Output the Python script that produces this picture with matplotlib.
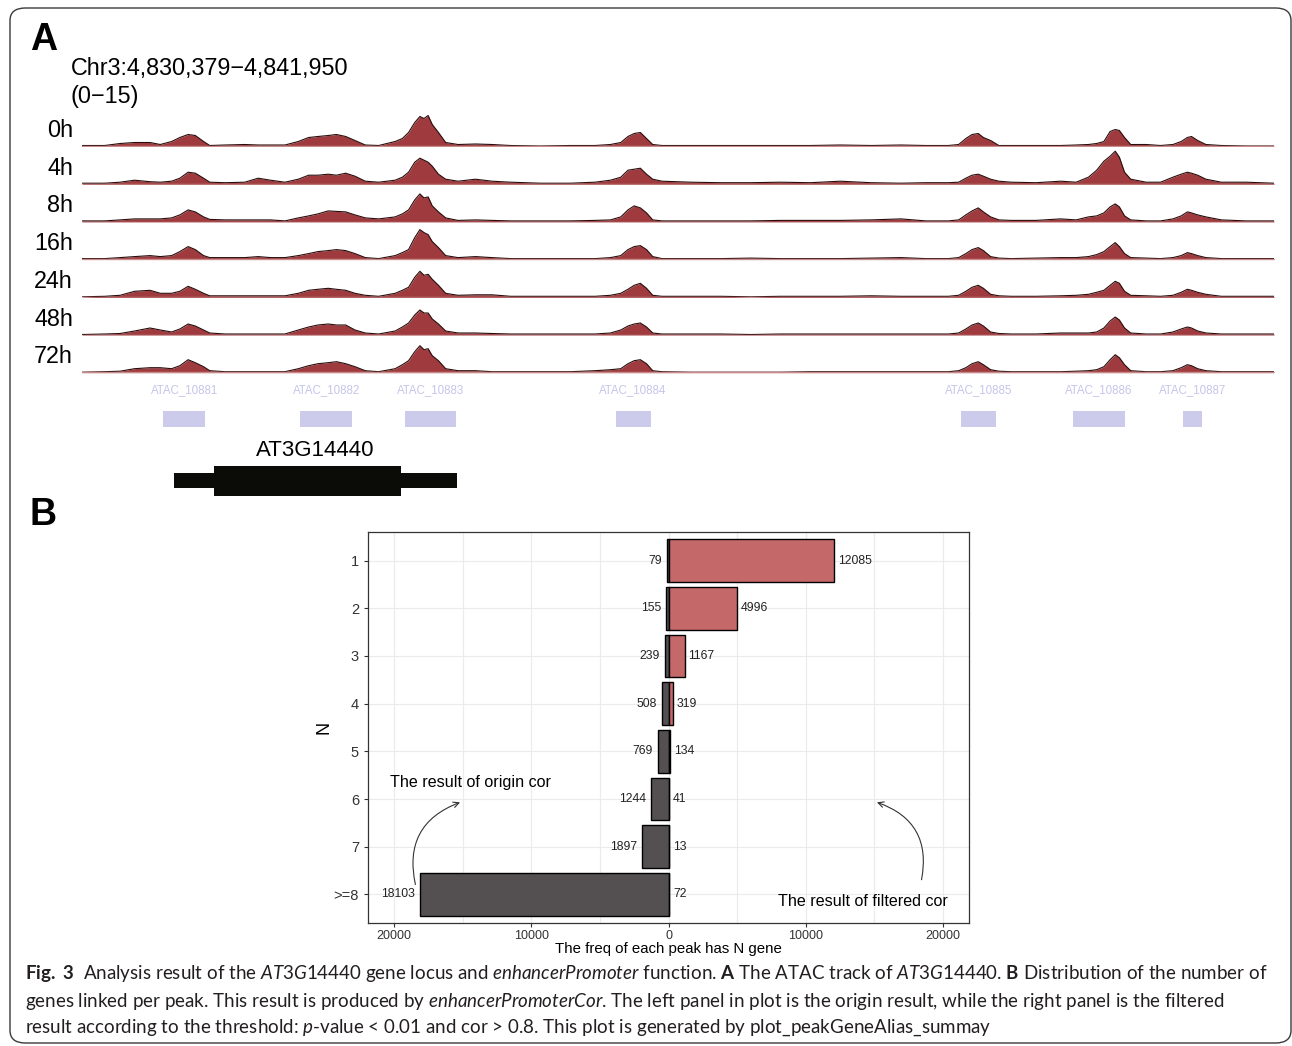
import matplotlib
matplotlib.use('Agg')
import matplotlib.pyplot as plt
import numpy as np
from matplotlib.patches import FancyBboxPatch, Rectangle
from matplotlib.ticker import FixedLocator, FuncFormatter

plt.rcParams['font.family'] = ['Liberation Sans', 'DejaVu Sans']
plt.rcParams['mathtext.fontset'] = 'custom'
plt.rcParams['mathtext.rm'] = 'Lato'
plt.rcParams['mathtext.it'] = 'Lato:italic'
plt.rcParams['mathtext.bf'] = 'Lato:bold'

W, H = 1292, 1046  # output size in pixels

# ---- panel A data: coverage tracks (bp offset from region start, signal 0-15)
REGION = 'Chr3:4,830,379\u22124,841,950'
REGION_LEN = 11571
pos = [0, 220, 370, 510, 660, 760, 870, 950, 1030, 1100,
       1180, 1240, 1390, 1580, 1710, 1830, 1970, 2100, 2200, 2290,
       2390, 2470, 2560, 2650, 2750, 2880, 3040, 3110, 3170, 3230,
       3280, 3320, 3360, 3400, 3460, 3530, 3650, 3820, 3980, 4160,
       4450, 4740, 4980, 5130, 5230, 5300, 5360, 5420, 5480, 5540,
       5630, 5910, 6200, 6490, 6780, 7070, 7360, 7660, 7950, 8190,
       8410, 8510, 8580, 8640, 8700, 8750, 8820, 8900, 9020, 9260,
       9500, 9650, 9770, 9850, 9920, 9980, 10030, 10070, 10120, 10180,
       10330, 10470, 10590, 10670, 10730, 10770, 10830, 10910, 11060, 11300,
       11571]
sig_0h = [0.4, 0.4, 1.2, 1.6, 1.6, 0.8, 2.0, 3.6, 4.8, 4.4,
          2.0, 0.4, 0.6, 0.8, 0.6, 0.6, 0.6, 2.0, 3.6, 4.0,
          4.4, 4.8, 4.0, 2.4, 0.6, 0.4, 2.0, 3.2, 5.6, 9.6,
          12.0, 11.2, 12.4, 8.8, 5.6, 1.6, 0.8, 1.0, 0.8, 0.4,
          0.2, 0.4, 0.4, 0.8, 1.6, 4.0, 5.2, 5.6, 3.2, 0.8,
          0.4, 0.4, 0.4, 0.4, 0.4, 0.4, 0.6, 0.4, 0.6, 0.4,
          0.4, 0.8, 3.2, 4.8, 5.2, 3.6, 2.4, 0.4, 0.4, 0.4,
          0.4, 0.6, 0.8, 1.2, 2.0, 6.0, 6.8, 6.4, 3.6, 0.8,
          0.8, 0.4, 0.8, 2.0, 3.6, 4.0, 2.4, 0.8, 0.4, 0.2, 0.2]
sig_4h = [0.4, 0.4, 0.8, 1.6, 1.0, 0.8, 1.2, 2.4, 4.8, 4.4,
          2.4, 0.8, 0.6, 0.8, 2.4, 1.6, 0.8, 2.0, 3.6, 3.6,
          4.0, 3.6, 4.4, 3.2, 1.2, 0.8, 1.6, 2.8, 4.8, 8.8,
          10.4, 9.6, 8.8, 7.2, 4.0, 2.0, 1.2, 2.0, 1.2, 0.8,
          0.4, 0.4, 0.8, 1.6, 2.8, 5.6, 6.0, 6.4, 4.0, 2.0,
          1.2, 0.8, 0.6, 0.6, 0.8, 0.6, 1.2, 0.6, 0.4, 0.6,
          0.6, 0.8, 2.4, 3.6, 4.0, 3.2, 2.0, 1.2, 0.8, 0.6,
          1.2, 0.8, 2.8, 5.6, 9.2, 11.2, 13.2, 10.8, 4.8, 2.0,
          0.8, 0.8, 2.8, 4.0, 4.8, 4.4, 3.6, 2.0, 0.8, 0.8, 0.4]
sig_8h = [0.4, 0.4, 0.8, 1.2, 1.2, 1.2, 1.6, 2.8, 4.8, 4.0,
          2.0, 1.0, 0.8, 0.8, 0.8, 0.8, 0.4, 1.6, 2.4, 3.2,
          4.4, 4.2, 4.0, 2.8, 1.6, 1.2, 2.0, 3.2, 4.8, 8.8,
          11.2, 9.6, 10.0, 6.4, 4.0, 1.6, 0.6, 0.8, 0.6, 0.4,
          0.4, 0.4, 0.6, 0.8, 2.0, 4.8, 6.4, 5.6, 3.6, 0.8,
          0.4, 0.4, 0.4, 0.4, 0.6, 0.6, 0.6, 0.8, 1.2, 0.4,
          0.4, 0.8, 2.8, 4.4, 5.6, 4.0, 2.0, 0.8, 0.6, 0.6,
          1.2, 0.8, 2.0, 2.4, 3.6, 6.0, 7.2, 6.0, 2.4, 0.8,
          0.4, 0.4, 1.2, 2.4, 4.0, 3.6, 2.8, 2.0, 0.8, 0.4, 0.4]
sig_16h = [0.4, 0.4, 0.8, 1.2, 1.6, 1.2, 1.6, 3.2, 5.2, 4.0,
           1.6, 0.8, 0.8, 0.8, 1.2, 0.8, 0.8, 1.6, 2.4, 3.2,
           3.6, 4.0, 3.6, 2.4, 0.8, 0.4, 1.6, 2.8, 4.0, 8.8,
           12.0, 10.8, 10.0, 7.2, 4.8, 1.6, 0.8, 1.2, 0.8, 0.4,
           0.4, 0.4, 0.4, 0.8, 1.6, 4.0, 5.2, 5.6, 4.0, 1.2,
           0.4, 0.4, 0.4, 0.6, 0.4, 0.4, 0.4, 0.6, 0.8, 0.4,
           0.4, 0.8, 2.4, 4.0, 4.8, 3.6, 1.2, 0.6, 0.4, 0.6,
           0.8, 0.8, 1.2, 2.0, 3.2, 5.2, 6.8, 5.2, 2.4, 0.8,
           0.6, 0.4, 0.8, 1.6, 2.8, 2.4, 1.6, 0.8, 0.4, 0.4, 0.4]
sig_24h = [0.2, 0.4, 0.8, 2.4, 2.8, 1.6, 1.6, 2.4, 4.4, 3.2,
           1.6, 0.6, 0.6, 0.6, 0.6, 0.6, 0.6, 1.6, 2.8, 3.2,
           3.6, 3.2, 2.8, 1.6, 0.8, 0.4, 1.6, 2.8, 4.0, 8.0,
           10.4, 8.8, 9.2, 7.2, 4.8, 1.6, 0.8, 1.0, 1.0, 0.4,
           0.4, 0.4, 0.4, 0.8, 1.6, 3.2, 4.8, 5.6, 3.6, 0.8,
           0.4, 0.4, 0.4, 0.2, 0.4, 0.4, 0.4, 0.6, 0.4, 0.4,
           0.4, 0.8, 2.4, 4.0, 4.8, 3.6, 1.2, 0.6, 0.4, 0.4,
           0.6, 0.8, 1.2, 2.0, 2.8, 4.8, 6.4, 5.6, 2.4, 0.8,
           0.6, 0.4, 0.8, 2.0, 3.2, 2.8, 2.0, 1.2, 0.4, 0.4, 0.4]
sig_48h = [0.2, 0.4, 0.6, 1.6, 2.8, 2.0, 1.2, 2.4, 4.4, 3.6,
           2.0, 0.8, 0.4, 0.4, 0.4, 0.4, 0.4, 2.0, 3.2, 4.0,
           4.4, 4.0, 4.0, 2.0, 0.8, 0.4, 1.6, 3.2, 4.8, 8.0,
           10.0, 8.8, 8.8, 6.4, 4.4, 1.6, 0.8, 0.8, 0.6, 0.4,
           0.4, 0.4, 0.4, 0.8, 2.0, 3.6, 4.4, 4.8, 3.2, 0.8,
           0.4, 0.4, 0.4, 0.2, 0.4, 0.4, 0.4, 0.4, 0.4, 0.4,
           0.4, 0.8, 2.4, 4.0, 4.8, 3.6, 1.2, 0.6, 0.4, 0.4,
           0.8, 0.8, 0.8, 1.2, 2.8, 5.6, 7.2, 6.0, 2.8, 0.8,
           0.4, 0.4, 1.2, 2.4, 3.2, 2.8, 1.6, 0.8, 0.4, 0.4, 0.4]
sig_72h = [0.2, 0.4, 0.6, 1.6, 2.0, 2.0, 1.6, 2.8, 5.2, 4.0,
           2.4, 0.8, 0.4, 0.4, 0.4, 0.4, 0.4, 1.6, 2.8, 3.6,
           4.0, 4.4, 3.6, 2.4, 0.8, 0.4, 1.6, 3.2, 4.8, 8.4,
           10.8, 9.2, 9.6, 6.8, 4.8, 1.6, 0.8, 0.8, 0.4, 0.4,
           0.4, 0.4, 0.8, 1.2, 1.6, 3.6, 4.8, 5.2, 3.6, 0.8,
           0.4, 0.2, 0.2, 0.2, 0.2, 0.4, 0.4, 0.4, 0.4, 0.4,
           0.4, 0.8, 2.0, 3.6, 4.4, 3.2, 1.2, 0.6, 0.4, 0.4,
           0.4, 0.6, 0.8, 1.2, 2.4, 5.2, 7.2, 6.0, 3.2, 0.8,
           0.4, 0.4, 0.8, 2.0, 3.2, 2.8, 1.6, 0.8, 0.4, 0.4, 0.4]
track_names = ['0h', '4h', '8h', '16h', '24h', '48h', '72h']
tracks = [sig_0h, sig_4h, sig_8h, sig_16h, sig_24h, sig_48h, sig_72h]

peak_names = ['ATAC_10881', 'ATAC_10882', 'ATAC_10883', 'ATAC_10884',
              'ATAC_10885', 'ATAC_10886', 'ATAC_10887']
peak_start = [790, 2120, 3140, 5180, 8530, 9620, 10690]
peak_end = [1195, 2620, 3630, 5520, 8870, 10120, 10870]
gene_name = 'AT3G14440'
gene_span = (890, 3640)
cds_span = (1280, 3100)

# ---- panel B data
n_labels = ['1', '2', '3', '4', '5', '6', '7', '>=8']
origin_counts = [79, 155, 239, 508, 769, 1244, 1897, 18103]
filtered_counts = [12085, 4996, 1167, 319, 134, 41, 13, 72]

FILL = '#9f3b3e'
EDGE = '#2a0c0c'
PEAK_COL = '#cccbeb'
ORIGIN_COL = '#545051'
FILTER_COL = '#c46869'

fig = plt.figure(figsize=(W / 100, H / 100), dpi=100)


def px_axes(x0, y0, x1, y1):
    return fig.add_axes([x0 / W, 1 - y1 / H, (x1 - x0) / W, (y1 - y0) / H])


def px_text(x, y, s, **kw):
    return fig.text(x / W, 1 - y / H, s, **kw)


# outer rounded frame
frame = FancyBboxPatch((10 / W, 1 - 1043 / H), 1281 / W, 1035 / H,
                       boxstyle='round,pad=0,rounding_size=0.012',
                       transform=fig.transFigure, fill=False,
                       ec='#3a3a3a', lw=1.0)
fig.patches.append(frame)

# ---- panel A
px_text(30, 40, 'A', fontsize=27, fontweight='bold', va='center', ha='left')
px_text(71, 69, REGION, fontsize=16.8, va='center', ha='left')
px_text(71, 96, '(0\u221215)', fontsize=16.8, va='center', ha='left')

for i, (name, sig) in enumerate(zip(track_names, tracks)):
    base = 146.5 + i * 37.7
    ax = px_axes(82, base - 37.5, 1274, base)
    ax.fill_between(pos, 0, sig, color=FILL, lw=0)
    ax.plot(pos, sig, color=EDGE, lw=0.8)
    ax.axhline(0.1, color='#c98a8a', lw=1.0)
    ax.set_xlim(0, REGION_LEN)
    ax.set_ylim(0, 15)
    ax.axis('off')
    px_text(73, base - 16, name, fontsize=16.8, ha='right', va='center')

axp = px_axes(82, 375, 1274, 500)
axp.set_xlim(0, REGION_LEN)
axp.set_ylim(500, 375)
axp.axis('off')
for nm, s, e in zip(peak_names, peak_start, peak_end):
    axp.add_patch(Rectangle((s, 411), e - s, 16, color=PEAK_COL, lw=0))
    axp.text((s + e) / 2, 390, nm, fontsize=8.3, color='#c6c5ea',
             ha='center', va='center')
axp.add_patch(Rectangle((gene_span[0], 473), gene_span[1] - gene_span[0], 15,
                        color='#0b0b07', lw=0))
axp.add_patch(Rectangle((cds_span[0], 466), cds_span[1] - cds_span[0], 30,
                        color='#0b0b07', lw=0))
axp.text((gene_span[0] + gene_span[1]) / 2, 450, gene_name, fontsize=16,
         ha='center', va='center')

# ---- panel B
px_text(30, 515, 'B', fontsize=27, fontweight='bold', va='center', ha='left')
axb = px_axes(368, 532, 969, 923)
ypos = np.arange(1, len(n_labels) + 1)
neg = [-v for v in origin_counts]
axb.barh(ypos, neg, height=0.9, color=ORIGIN_COL, edgecolor='black', lw=1.0, zorder=3)
axb.barh(ypos, filtered_counts, height=0.9, color=FILTER_COL, edgecolor='black', lw=1.0, zorder=3)
for y, v in zip(ypos, origin_counts):
    axb.annotate(str(v), (-v, y), xytext=(-5, 0), textcoords='offset pixels',
                 ha='right', va='center', fontsize=8.8, color='#222222')
for y, v in zip(ypos, filtered_counts):
    axb.annotate(str(v), (v, y), xytext=(4, 0), textcoords='offset pixels',
                 ha='left', va='center', fontsize=8.8, color='#222222')

axb.set_xlim(-21900, 21900)
axb.set_ylim(8.6, 0.4)
axb.set_yticks(ypos)
axb.set_yticklabels(n_labels, fontsize=10.5, color='#333333')
axb.xaxis.set_major_locator(FixedLocator([-20000, -10000, 0, 10000, 20000]))
axb.xaxis.set_minor_locator(FixedLocator([-15000, -5000, 5000, 15000]))
axb.xaxis.set_major_formatter(FuncFormatter(lambda v, p: f'{abs(int(v))}'))
axb.tick_params(axis='x', labelsize=9, colors='#333333', length=3, pad=2)
axb.tick_params(axis='x', which='minor', length=0)
axb.tick_params(axis='y', length=3, colors='#333333')
axb.grid(True, which='both', color='#ebebeb', lw=0.8, zorder=0)
for sp in axb.spines.values():
    sp.set_color('#333333')
    sp.set_linewidth(0.9)
axb.set_xlabel('The freq of each peak has N gene', fontsize=10.8, labelpad=0)
axb.set_ylabel('N', fontsize=13, labelpad=1)

axb.text(-14400, 5.65, 'The result of origin cor', fontsize=11.6,
         ha='center', va='center')
axb.annotate('', xy=(-15000, 6.05), xytext=(-18400, 7.85),
             arrowprops=dict(arrowstyle='->', color='#333333', lw=0.8,
                             connectionstyle='arc3,rad=-0.45'))
axb.text(14200, 8.15, 'The result of filtered cor', fontsize=11.6,
         ha='center', va='center')
axb.annotate('', xy=(15000, 6.05), xytext=(18400, 7.75),
             arrowprops=dict(arrowstyle='->', color='#333333', lw=0.8,
                             connectionstyle='arc3,rad=0.45'))

# ---- caption
cap_kw = dict(fontsize=13.5, family='Lato', color='#231f20', ha='left', va='center')
px_text(25, 973, r'$\mathbf{Fig.\ 3}$  Analysis result of the $\mathit{AT3G14440}$ gene locus and '
        r'$\mathit{enhancerPromoter}$ function. $\mathbf{A}$ The ATAC track of $\mathit{AT3G14440}$. '
        r'$\mathbf{B}$ Distribution of the number of', **cap_kw)
px_text(25, 1001, r'genes linked per peak. This result is produced by $\mathit{enhancerPromoterCor}$. '
        'The left panel in plot is the origin result, while the right panel is the filtered', **cap_kw)
px_text(25, 1028, r'result according to the threshold: $\mathit{p}$-value < 0.01 and cor > 0.8. '
        'This plot is generated by plot_peakGeneAlias_summay', **cap_kw)

fig.savefig('out.png', dpi=100)
